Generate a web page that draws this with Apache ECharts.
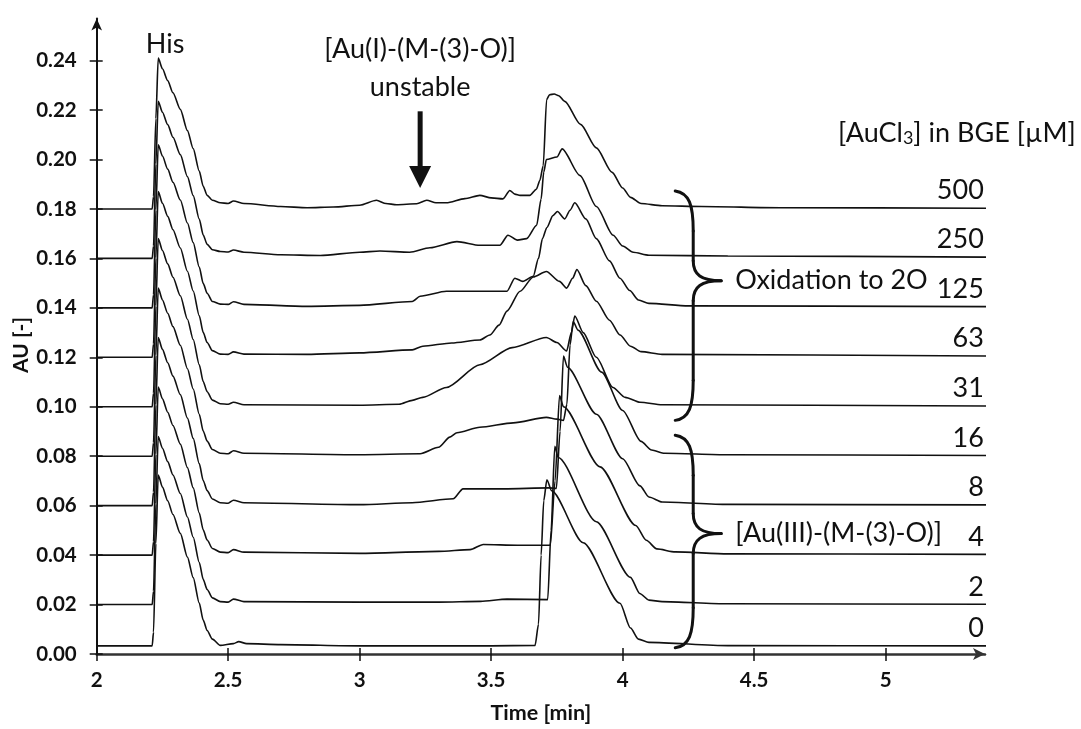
<!DOCTYPE html>
<html><head><meta charset="utf-8">
<script src="https://cdn.jsdelivr.net/npm/echarts@6/dist/echarts.min.js"></script>
<style>html,body{margin:0;padding:0;background:#fff}#c{width:1081px;height:729px}</style>
</head><body><div id="c"></div>
<script>
// ---- data (time [min], AU) ----
const concLabels = ['500','250','125','63','31','16','8','4','2','0'];
const xTicks = [2, 2.5, 3, 3.5, 4, 4.5, 5];
const yTicks = [0, 0.02, 0.04, 0.06, 0.08, 0.10, 0.12, 0.14, 0.16, 0.18, 0.20, 0.22, 0.24];

const t500 = [[2.0,0.180],[2.205,0.180],[2.211,0.180],[2.216,0.185],[2.225,0.2166],[2.234,0.241],[2.25,0.2367],[2.27,0.2319],[2.29,0.227],[2.318,0.2203],[2.345,0.2117],[2.367,0.2044],[2.39,0.1953],[2.405,0.1892],[2.42,0.1855],[2.44,0.1835],[2.47,0.1825],[2.5,0.1822],[2.52,0.1832],[2.56,0.1822],[2.7,0.181],[2.8,0.1805],[2.9,0.1808],[3.0,0.1815],[3.064,0.1835],[3.1,0.1822],[3.14,0.1817],[3.217,0.1821],[3.255,0.1835],[3.29,0.1825],[3.33,0.1825],[3.4,0.1842],[3.457,0.1855],[3.5,0.1845],[3.545,0.1841],[3.571,0.1875],[3.59,0.186],[3.61,0.1855],[3.647,0.1855],[3.672,0.188],[3.685,0.1915],[3.698,0.1975],[3.711,0.2243],[3.722,0.2262],[3.74,0.2265],[3.757,0.2258],[3.78,0.2235],[3.84,0.2142],[3.9,0.2047],[3.96,0.1948],[4.0,0.1885],[4.03,0.1847],[4.07,0.1822],[4.15,0.1813],[4.3,0.181],[4.6,0.1805],[5.4,0.1803]];
const t250 = [[2.0,0.160],[2.205,0.160],[2.211,0.160],[2.216,0.165],[2.225,0.1982],[2.234,0.2236],[2.25,0.2191],[2.27,0.2141],[2.29,0.209],[2.318,0.202],[2.345,0.1931],[2.367,0.1854],[2.39,0.1759],[2.405,0.1695],[2.42,0.1657],[2.44,0.1635],[2.47,0.1628],[2.5,0.1626],[2.52,0.1634],[2.56,0.1625],[2.7,0.1615],[2.85,0.1612],[3.0,0.1625],[3.077,0.163],[3.19,0.1625],[3.267,0.1643],[3.37,0.1668],[3.457,0.1653],[3.533,0.1653],[3.564,0.1694],[3.6,0.1674],[3.635,0.168],[3.673,0.1734],[3.69,0.184],[3.7,0.1949],[3.71,0.2],[3.75,0.201],[3.77,0.2043],[3.838,0.1935],[3.9,0.181],[3.964,0.1694],[4.0,0.165],[4.04,0.1625],[4.1,0.1613],[4.4,0.161],[5.4,0.1605]];
const t125 = [[2.0,0.140],[2.205,0.140],[2.211,0.140],[2.216,0.1453],[2.225,0.1796],[2.234,0.206],[2.25,0.2014],[2.27,0.1961],[2.29,0.1908],[2.318,0.1836],[2.345,0.1743],[2.367,0.1664],[2.39,0.1565],[2.405,0.1499],[2.42,0.1459],[2.44,0.1426],[2.47,0.1415],[2.5,0.1414],[2.52,0.1425],[2.56,0.1414],[2.8,0.1406],[3.0,0.141],[3.2,0.1426],[3.23,0.1447],[3.33,0.1467],[3.56,0.1467],[3.59,0.152],[3.62,0.1507],[3.66,0.1528],[3.68,0.160],[3.695,0.168],[3.712,0.1725],[3.735,0.1773],[3.752,0.179],[3.78,0.176],[3.80,0.1795],[3.818,0.1825],[3.86,0.176],[3.9,0.168],[3.95,0.159],[3.99,0.152],[4.027,0.147],[4.06,0.1432],[4.1,0.1418],[4.25,0.1408],[5.4,0.1405]];
const t63 = [[2.0,0.120],[2.205,0.120],[2.211,0.120],[2.216,0.1254],[2.225,0.1602],[2.234,0.187],[2.25,0.1823],[2.27,0.177],[2.29,0.1716],[2.318,0.1642],[2.345,0.1548],[2.367,0.1468],[2.39,0.1368],[2.405,0.1301],[2.42,0.126],[2.44,0.1227],[2.47,0.1213],[2.5,0.1212],[2.52,0.1222],[2.56,0.1213],[2.8,0.1212],[3.0,0.1218],[3.2,0.123],[3.24,0.1245],[3.35,0.1258],[3.457,0.127],[3.495,0.129],[3.53,0.133],[3.56,0.1387],[3.61,0.1467],[3.66,0.1525],[3.71,0.1547],[3.76,0.1507],[3.787,0.148],[3.81,0.152],[3.826,0.1555],[3.86,0.149],[3.9,0.1427],[3.95,0.135],[3.99,0.129],[4.03,0.1245],[4.07,0.1223],[4.15,0.1212],[5.4,0.1205]];
const t31 = [[2.0,0.100],[2.205,0.100],[2.211,0.100],[2.216,0.1054],[2.225,0.1408],[2.234,0.168],[2.25,0.1632],[2.27,0.1578],[2.29,0.1524],[2.318,0.1449],[2.345,0.1354],[2.367,0.1272],[2.39,0.117],[2.405,0.1102],[2.42,0.1061],[2.44,0.1027],[2.47,0.1012],[2.5,0.101],[2.52,0.1018],[2.56,0.1008],[3.0,0.1006],[3.15,0.101],[3.2,0.1026],[3.24,0.1038],[3.33,0.1078],[3.457,0.117],[3.58,0.1239],[3.71,0.128],[3.75,0.126],[3.787,0.1226],[3.805,0.130],[3.818,0.1367],[3.85,0.130],[3.9,0.12],[3.963,0.1078],[4.01,0.1038],[4.066,0.1018],[4.15,0.1008],[5.4,0.1003]];
const t16 = [[2.0,0.080],[2.205,0.080],[2.211,0.080],[2.216,0.0854],[2.225,0.1208],[2.234,0.148],[2.25,0.1432],[2.27,0.1378],[2.29,0.1324],[2.318,0.1249],[2.345,0.1154],[2.367,0.1072],[2.39,0.097],[2.405,0.0902],[2.42,0.0861],[2.44,0.0827],[2.47,0.0812],[2.5,0.081],[2.52,0.0822],[2.56,0.0812],[3.0,0.0806],[3.23,0.081],[3.30,0.0836],[3.343,0.0877],[3.37,0.0895],[3.457,0.0917],[3.584,0.0935],[3.71,0.0957],[3.75,0.095],[3.775,0.0945],[3.788,0.101],[3.80,0.125],[3.812,0.1345],[3.83,0.131],[3.92,0.114],[4.0,0.0985],[4.07,0.086],[4.11,0.0825],[4.16,0.0812],[4.4,0.0806],[5.4,0.0803]];
const t8 = [[2.0,0.060],[2.205,0.060],[2.211,0.060],[2.216,0.0654],[2.225,0.1008],[2.234,0.128],[2.25,0.1232],[2.27,0.1178],[2.29,0.1124],[2.318,0.1049],[2.345,0.0954],[2.367,0.0872],[2.39,0.077],[2.405,0.0702],[2.42,0.0661],[2.44,0.0627],[2.47,0.0612],[2.5,0.061],[2.52,0.0622],[2.56,0.0612],[3.0,0.0604],[3.2,0.0612],[3.356,0.0628],[3.393,0.0668],[3.55,0.0668],[3.72,0.0672],[3.748,0.067],[3.762,0.09],[3.775,0.1205],[3.79,0.116],[3.9,0.097],[4.0,0.079],[4.066,0.068],[4.1,0.0635],[4.15,0.0615],[4.4,0.0605],[5.4,0.0603]];
const t4 = [[2.0,0.040],[2.205,0.040],[2.211,0.040],[2.216,0.0454],[2.225,0.0808],[2.234,0.108],[2.25,0.1032],[2.27,0.0978],[2.29,0.0924],[2.318,0.0849],[2.345,0.0754],[2.367,0.0672],[2.39,0.057],[2.405,0.0502],[2.42,0.0461],[2.44,0.0427],[2.47,0.0412],[2.5,0.041],[2.52,0.0422],[2.56,0.0412],[3.0,0.0407],[3.3,0.0415],[3.42,0.0422],[3.47,0.0443],[3.6,0.044],[3.725,0.044],[3.743,0.07],[3.76,0.1045],[3.775,0.1],[3.914,0.0757],[4.05,0.052],[4.09,0.046],[4.13,0.0425],[4.2,0.0413],[4.4,0.0405],[5.4,0.0403]];
const t2 = [[2.0,0.020],[2.205,0.020],[2.211,0.020],[2.216,0.0254],[2.225,0.0608],[2.234,0.088],[2.25,0.0832],[2.27,0.0778],[2.29,0.0724],[2.318,0.0649],[2.345,0.0554],[2.367,0.0472],[2.39,0.037],[2.405,0.0302],[2.42,0.0261],[2.44,0.0227],[2.47,0.0212],[2.5,0.021],[2.52,0.0222],[2.56,0.0212],[3.0,0.021],[3.3,0.021],[3.46,0.0213],[3.56,0.0222],[3.715,0.022],[3.728,0.05],[3.742,0.084],[3.755,0.0795],[3.9,0.0535],[4.03,0.031],[4.065,0.0245],[4.1,0.0218],[4.15,0.0212],[4.4,0.0203],[5.4,0.0201]];
const t0 = [[2.0,0.0033],[2.205,0.0033],[2.211,0.0033],[2.216,0.0088],[2.225,0.0447],[2.234,0.0724],[2.25,0.0675],[2.27,0.062],[2.29,0.0564],[2.318,0.0488],[2.345,0.0392],[2.367,0.0309],[2.39,0.0206],[2.405,0.0137],[2.42,0.0095],[2.44,0.006],[2.47,0.0035],[2.52,0.0042],[2.54,0.005],[2.57,0.0042],[2.7,0.0038],[3.0,0.0033],[3.5,0.0033],[3.667,0.0035],[3.68,0.012],[3.69,0.04],[3.70,0.062],[3.712,0.0705],[3.73,0.066],[3.85,0.045],[3.99,0.0205],[4.03,0.0105],[4.06,0.006],[4.1,0.0047],[4.4,0.0034],[5.4,0.0033]];
const traces = [t500, t250, t125, t63, t31, t16, t8, t4, t2, t0];

// annotation anchors (data coordinates)
const annHis = [2.26, 0.2468];
const annAuI = [3.23, 0.2446];
const annUnstable = [3.23, 0.2291];
const annAU = 0.125;
const arrowAuI = {x: 3.23, yFrom: 0.2195, yTo: 0.1885};
const braceOx = {x: 4.2, yTop: 0.1873, yBot: 0.0945, yTip: 0.151};
const braceAu = {x: 4.2, yTop: 0.0885, yBot: 0.0025, yTip: 0.0487};

const FONT = 'Lato, "Open Sans", sans-serif';
const chart = echarts.init(document.getElementById('c'), null, {renderer: 'canvas'});

const series = traces.map((d, i) => ({
  type: 'line', data: d, showSymbol: false, symbol: 'none', clip: false,
  smooth: 0.25, smoothMonotone: 'x',
  lineStyle: {color: '#111', width: 1.6}, animation: false, silent: true
}));

const GRID = {left: 96.7, right: 96, top: 18.6, bottom: 70.7};
const XMAX = 5.378, YMAX = 0.257;
const labelFont = {fontFamily: FONT, fontWeight: 'bold', fontSize: 20.5, color: '#111'};

chart.setOption({
  animation: false,
  grid: GRID,
  xAxis: [{
    type: 'value', min: 2, max: XMAX,
    axisLine: {lineStyle: {color: '#333', width: 2.5}, symbol: ['none', 'arrow'], symbolSize: [9, 12]},
    axisTick: {length: 7, lineStyle: {color: '#111', width: 1.5}, customValues: xTicks},
    axisLabel: Object.assign({margin: 16, customValues: xTicks, formatter: v => String(v)}, labelFont),
    splitLine: {show: false},
    name: 'Time [min]', nameLocation: 'middle', nameGap: 48,
    nameTextStyle: {fontFamily: FONT, fontWeight: 'bold', fontSize: 21.5, color: '#111'}
  }, {
    type: 'value', min: 2, max: XMAX, position: 'bottom',
    axisLine: {show: false}, axisLabel: {show: false}, splitLine: {show: false},
    axisTick: {inside: true, length: 6, lineStyle: {color: '#111', width: 1.5}, customValues: xTicks}
  }],
  yAxis: [{
    type: 'value', min: 0, max: YMAX,
    axisLine: {lineStyle: {color: '#111', width: 2}, symbol: ['none', 'arrow'], symbolSize: [8, 12]},
    axisTick: {length: 7, lineStyle: {color: '#111', width: 1.5}, customValues: yTicks},
    axisLabel: Object.assign({margin: 20, customValues: yTicks, formatter: v => v.toFixed(2)}, labelFont),
    splitLine: {show: false}
  }, {
    type: 'value', min: 0, max: YMAX, position: 'left',
    axisLine: {show: false}, axisLabel: {show: false}, splitLine: {show: false},
    axisTick: {inside: true, length: 6, lineStyle: {color: '#111', width: 1.5}, customValues: yTicks}
  }],
  series: series
});

function px(x, y) { return chart.convertToPixel({xAxisIndex: 0, yAxisIndex: 0}, [x, y]); }

const annFont = {fontFamily: FONT, fontSize: 27, fill: '#111'};
const graphics = [];
function addText(text, p, align, vAlign) {
  graphics.push({type: 'text', x: p[0], y: p[1], silent: true,
    style: Object.assign({text: text, align: align, verticalAlign: vAlign}, annFont)});
}
addText('His', px(annHis[0], annHis[1]), 'center', 'middle');
addText('[Au(I)-(M-(3)-O)]', px(annAuI[0], annAuI[1]), 'center', 'middle');
addText('unstable', px(annUnstable[0], annUnstable[1]), 'center', 'middle');

// y axis name
{
  const p = px(2, annAU);
  graphics.push({type: 'text', x: p[0] - 75, y: p[1], rotation: Math.PI / 2, silent: true,
    style: {text: 'AU [-]', align: 'center', verticalAlign: 'middle', fontFamily: FONT, fontWeight: 'bold', fontSize: 21, fill: '#111'}});
}

// concentration labels above right end of each trace
traces.forEach((d, i) => {
  const last = d[d.length - 1];
  const p = px(last[0], last[1]);
  addText(concLabels[i], [p[0] - 7, p[1] - 4], 'right', 'bottom');
});
// header
{
  const p = px(traces[0][traces[0].length - 1][0], 0.2107);
  graphics.push({type: 'text', x: p[0] + 85, y: p[1], silent: true,
    style: Object.assign({text: '[AuCl{s|3}] in BGE [µM]', align: 'right', verticalAlign: 'middle',
      rich: {s: {fontFamily: FONT, fontSize: 18, fill: '#111', padding: [10, 0, 0, 0]}}}, annFont)});
}

// arrow
{
  const a = px(arrowAuI.x, arrowAuI.yFrom), b = px(arrowAuI.x, arrowAuI.yTo);
  graphics.push({type: 'line', silent: true, shape: {x1: a[0], y1: a[1], x2: b[0], y2: b[1] - 18},
    style: {stroke: '#111', lineWidth: 5}});
  graphics.push({type: 'polygon', silent: true, shape: {points: [[b[0] - 11, b[1] - 22], [b[0] + 11, b[1] - 22], [b[0], b[1]]]},
    style: {fill: '#111'}});
}

// braces built from bezier curves and lines
function bez(p1, c1, c2, p2) {
  graphics.push({type: 'bezierCurve', silent: true,
    shape: {x1: p1[0], y1: p1[1], cpx1: c1[0], cpy1: c1[1], cpx2: c2[0], cpy2: c2[1], x2: p2[0], y2: p2[1]},
    style: {stroke: '#111', lineWidth: 3, fill: null, lineCap: 'round'}});
}
function seg(p1, p2) {
  graphics.push({type: 'line', silent: true, shape: {x1: p1[0], y1: p1[1], x2: p2[0], y2: p2[1]},
    style: {stroke: '#111', lineWidth: 3, lineCap: 'round'}});
}
function brace(br, text) {
  const t = px(br.x, br.yTop), bt = px(br.x, br.yBot), m = px(br.x, br.yTip);
  const x0 = t[0], xs = x0 + 18, xt = x0 + 46;
  const y0 = t[1], y1 = bt[1], ym = m[1];
  bez([x0, y0], [x0 + 14, y0 + 2], [xs, y0 + 14], [xs, y0 + 40]);
  seg([xs, y0 + 40], [xs, ym - 20]);
  bez([xs, ym - 20], [xs, ym - 6], [xs + 8, ym], [xt, ym]);
  bez([xt, ym], [xs + 8, ym], [xs, ym + 6], [xs, ym + 20]);
  seg([xs, ym + 20], [xs, y1 - 40]);
  bez([xs, y1 - 40], [xs, y1 - 14], [x0 + 14, y1 - 2], [x0, y1]);
  addText(text, [xt + 14, ym], 'left', 'middle');
}
brace(braceOx, 'Oxidation to 2O');
brace(braceAu, '[Au(III)-(M-(3)-O)]');

chart.setOption({graphic: graphics});
</script></body></html>
